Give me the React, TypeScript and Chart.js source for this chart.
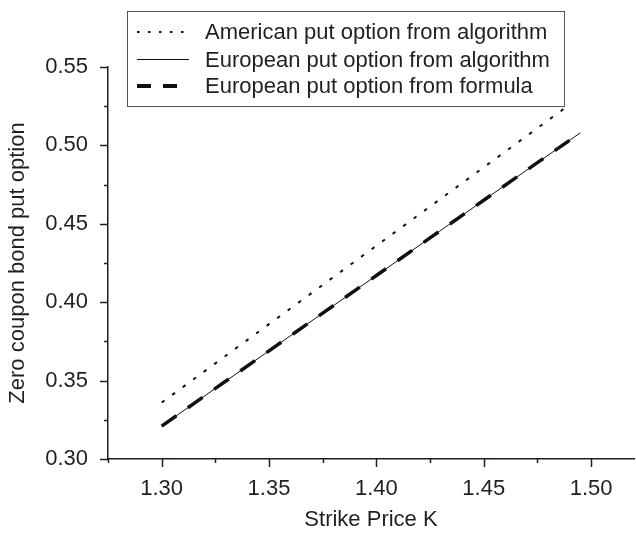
import React, { useEffect, useRef } from 'react';
import { Chart, registerables } from 'chart.js';

Chart.register(...registerables);

// ---- data ----
const strikes = [1.3, 1.325, 1.35, 1.375, 1.4, 1.425, 1.45, 1.475, 1.495];
const americanStrikes = [1.3, 1.325, 1.35, 1.375, 1.4, 1.425, 1.45, 1.475, 1.488];
const americanAlgorithm = [0.336, 0.361, 0.386, 0.411, 0.436, 0.461, 0.486, 0.511, 0.524];
const europeanAlgorithm = [0.321, 0.345, 0.369, 0.393, 0.417, 0.441, 0.465, 0.489, 0.508];
const europeanFormula = [0.321, 0.345, 0.369, 0.393, 0.417, 0.441, 0.465, 0.489, 0.508];
const seriesNames = [
  'American put option from algorithm',
  'European put option from algorithm',
  'European put option from formula',
];
const xTickValues = [1.275, 1.3, 1.325, 1.35, 1.375, 1.4, 1.425, 1.45, 1.475, 1.5];
const yTickValues = [0.3, 0.325, 0.35, 0.375, 0.4, 0.425, 0.45, 0.475, 0.5, 0.525, 0.55];
const xTitle = 'Strike Price K';
const yTitle = 'Zero coupon bond put option';

const FONT = '"Liberation Sans", Arial, Helvetica, sans-serif';
const TEXT = '#231f20';
const AXIS = '#231f20';
const LINE = '#111111';

const isMajor = (v: number) => Math.abs(Math.round(v * 40)) % 2 === 0;

const tickPlugin = {
  id: 'minorMajorTicks',
  afterDatasetsDraw(chart: any) {
    const { ctx } = chart;
    const xs = chart.scales.x;
    const ys = chart.scales.y;
    ctx.save();
    ctx.strokeStyle = AXIS;
    ctx.lineWidth = 1.5;
    xs.ticks.forEach((t: any) => {
      const px = Math.round(xs.getPixelForValue(t.value)) + 0.5;
      const len = isMajor(t.value) ? 8 : 4;
      ctx.beginPath();
      ctx.moveTo(px, xs.top);
      ctx.lineTo(px, xs.top + len);
      ctx.stroke();
    });
    ys.ticks.forEach((t: any) => {
      const py = Math.round(ys.getPixelForValue(t.value)) + 0.5;
      const len = isMajor(t.value) ? 8 : 4;
      ctx.beginPath();
      ctx.moveTo(ys.right, py);
      ctx.lineTo(ys.right - len, py);
      ctx.stroke();
    });
    ctx.restore();
  },
};

const legendPlugin = {
  id: 'boxLegend',
  afterDraw(chart: any) {
    const { ctx } = chart;
    const box = { x: 127.5, y: 11.5, w: 437, h: 95 };
    ctx.save();
    ctx.fillStyle = '#ffffff';
    ctx.fillRect(box.x, box.y, box.w, box.h);
    ctx.strokeStyle = '#555555';
    ctx.lineWidth = 1;
    ctx.strokeRect(box.x, box.y, box.w, box.h);
    const rows = [32, 59.5, 86];
    const samples = [
      { dash: [2.5, 8.5], width: 2 },
      { dash: [], width: 1 },
      { dash: [14, 12], width: 4 },
    ];
    chart.data.datasets.forEach((ds: any, i: number) => {
      const y = rows[i];
      ctx.beginPath();
      ctx.setLineDash(samples[i].dash);
      ctx.lineWidth = samples[i].width;
      ctx.strokeStyle = ds.borderColor;
      ctx.moveTo(137, y);
      ctx.lineTo(189, y);
      ctx.stroke();
      ctx.setLineDash([]);
      ctx.fillStyle = TEXT;
      ctx.font = `22px ${FONT}`;
      ctx.textBaseline = 'middle';
      ctx.textAlign = 'left';
      ctx.fillText(ds.label, 205, y + 1);
    });
    ctx.restore();
  },
};

export default function App() {
  const canvasRef = useRef<HTMLCanvasElement | null>(null);

  useEffect(() => {
    document.body.style.margin = '0';
    const canvas = canvasRef.current;
    if (!canvas) return;
    const toPoints = (xs: number[], ys: number[]) => xs.map((k, i) => ({ x: k, y: ys[i] }));
    const chart = new Chart(canvas, {
      type: 'line',
      data: {
        datasets: [
          {
            label: seriesNames[0],
            data: toPoints(americanStrikes, americanAlgorithm),
            borderColor: LINE,
            borderWidth: 2,
            borderDash: [3.5, 9.5],
            pointRadius: 0,
            fill: false,
          },
          {
            label: seriesNames[1],
            data: toPoints(strikes, europeanAlgorithm),
            borderColor: LINE,
            borderWidth: 1,
            pointRadius: 0,
            fill: false,
          },
          {
            label: seriesNames[2],
            data: toPoints(strikes, europeanFormula),
            borderColor: LINE,
            borderWidth: 3.5,
            borderDash: [18, 14],
            pointRadius: 0,
            fill: false,
          },
        ],
      },
      options: {
        animation: false,
        responsive: false,
        devicePixelRatio: 1,
        layout: { padding: { top: 67, right: 2, left: 0, bottom: 0 } },
        plugins: {
          legend: { display: false },
          tooltip: { enabled: false },
          title: { display: false },
        },
        scales: {
          x: {
            type: 'linear',
            min: 1.275,
            max: 1.52,
            afterBuildTicks: (s: any) => {
              s.ticks = xTickValues.map((v) => ({ value: v }));
            },
            afterFit: (s: any) => {
              s.height = 74;
            },
            grid: { display: false, drawTicks: false },
            border: { display: true, color: AXIS, width: 1.5 },
            ticks: {
              autoSkip: false,
              maxRotation: 0,
              padding: 17,
              color: TEXT,
              font: { family: FONT, size: 22 },
              callback: (v: any) => (isMajor(Number(v)) ? Number(v).toFixed(2) : ''),
            },
            title: {
              display: true,
              text: xTitle,
              color: TEXT,
              font: { family: FONT, size: 22 },
              padding: { top: 0, bottom: 0 },
            },
          },
          y: {
            type: 'linear',
            min: 0.3,
            max: 0.55,
            afterBuildTicks: (s: any) => {
              s.ticks = yTickValues.map((v) => ({ value: v }));
            },
            afterFit: (s: any) => {
              s.width = 108;
            },
            grid: { display: false, drawTicks: false },
            border: { display: true, color: AXIS, width: 1.5 },
            ticks: {
              autoSkip: false,
              padding: 20,
              color: TEXT,
              font: { family: FONT, size: 22 },
              callback: (v: any) => (isMajor(Number(v)) ? Number(v).toFixed(2) : ''),
            },
            title: {
              display: true,
              text: yTitle,
              color: TEXT,
              font: { family: FONT, size: 22 },
              padding: { top: 5, bottom: 0 },
            },
          },
        },
      },
      plugins: [tickPlugin, legendPlugin],
    });
    return () => chart.destroy();
  }, []);

  return (
    <div style={{ width: 636, height: 533, background: '#ffffff' }}>
      <canvas ref={canvasRef} width={636} height={533} style={{ display: 'block' }} />
    </div>
  );
}
